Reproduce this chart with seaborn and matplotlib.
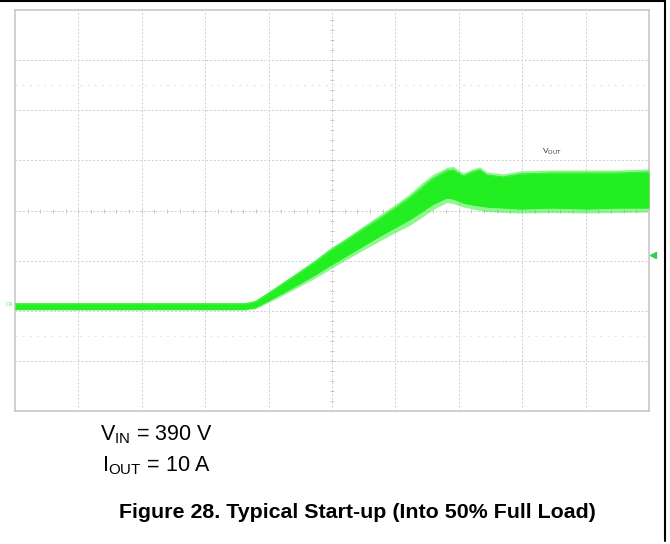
import numpy as np
import pandas as pd
import matplotlib
matplotlib.use("Agg")
import matplotlib.pyplot as plt
from matplotlib.lines import Line2D
import seaborn as sns

# ---- data (oscilloscope divisions: x 0..10, y 0..8) ----
t_div = [0.00, 1.50, 3.63, 3.79, 3.94, 4.18, 4.45, 4.73, 4.97, 5.24, 5.49, 5.76,
         6.03, 6.23, 6.39, 6.59, 6.81, 6.91, 7.07, 7.22, 7.33, 7.44, 7.70, 7.97,
         8.49, 9.02, 9.54, 10.00]
v_top = [2.14, 2.14, 2.14, 2.18, 2.30, 2.50, 2.73, 2.97, 3.20, 3.42, 3.63, 3.85,
         4.08, 4.26, 4.43, 4.64, 4.79, 4.81, 4.69, 4.77, 4.81, 4.71, 4.67, 4.73,
         4.75, 4.75, 4.75, 4.77]
v_bot = [2.03, 2.03, 2.03, 2.06, 2.16, 2.32, 2.51, 2.71, 2.90, 3.10, 3.29, 3.49,
         3.68, 3.82, 3.95, 4.12, 4.25, 4.23, 4.15, 4.11, 4.09, 4.07, 4.05, 4.03,
         4.05, 4.03, 4.05, 4.05]
# fuzzy fringe of the noisy trace
f_top = [2.16, 2.16, 2.16, 2.21, 2.33, 2.54, 2.77, 3.02, 3.25, 3.47, 3.69, 3.92,
         4.15, 4.34, 4.52, 4.72, 4.86, 4.88, 4.75, 4.83, 4.87, 4.77, 4.73, 4.79,
         4.81, 4.81, 4.81, 4.83]
f_bot = [2.01, 2.01, 2.01, 2.04, 2.13, 2.28, 2.46, 2.65, 2.83, 3.03, 3.21, 3.40,
         3.58, 3.71, 3.84, 4.02, 4.16, 4.14, 4.07, 4.03, 4.00, 3.98, 3.96, 3.95,
         3.96, 3.95, 3.96, 3.97]

trace_label = "V$_{\\mathrm{OUT}}$"
vin_text = "V$_{\\mathrm{IN}}$ = 390 V"
iout_text = "I$_{\\mathrm{OUT}}$ = 10 A"
caption = "Figure 28. Typical Start-up (Into 50% Full Load)"
chan_label = "C4"

df = pd.DataFrame({"t": t_div, "top": v_top, "bot": v_bot})

sns.set_theme(style="white")
plt.rcParams["font.family"] = ["Liberation Sans", "DejaVu Sans"]
plt.rcParams["mathtext.fontset"] = "custom"
plt.rcParams["mathtext.rm"] = "Liberation Sans"
plt.rcParams["mathtext.it"] = "Liberation Sans"

W, H = 670, 544
fig = plt.figure(figsize=(W / 100, H / 100), dpi=100)
fig.patch.set_facecolor("white")
ax = fig.add_axes([15 / W, (H - 411) / H, 634 / W, 401 / H])
ax.set_facecolor("white")

green = "#22ee22"
gridc = "#cfcfcf"

# graticule
for xv in range(1, 10):
    ax.axvline(xv, color=gridc, lw=0.7, ls=(0, (2, 2)), zorder=1)
for yv in range(1, 8):
    ax.axhline(yv, color=gridc, lw=0.7, ls=(0, (2, 2)), zorder=1)
for yv in (1.5, 6.5):
    ax.axhline(yv, color="#e0e0e0", lw=0.8, ls=(0, (1.5, 5)), zorder=1)
# center-line minor ticks
mx = np.arange(0.2, 10, 0.2)
my = np.arange(0.2, 8, 0.2)
ax.plot(mx, np.full_like(mx, 4.0), ls="none", marker="|", ms=3.5, mew=0.6,
        color="#c0c0c0", zorder=1)
ax.plot(np.full_like(my, 5.0), my, ls="none", marker="_", ms=3.5, mew=0.6,
        color="#c0c0c0", zorder=1)

# trace
ax.fill_between(t_div, f_bot, f_top, color=green, alpha=0.5, lw=0, zorder=2)
ax.fill_between(df["t"], df["bot"], df["top"], color=green, lw=0, zorder=3)
sns.lineplot(data=df, x="t", y="top", ax=ax, color=green, lw=0.6, zorder=3)
sns.lineplot(data=df, x="t", y="bot", ax=ax, color=green, lw=0.6, zorder=3)

ax.set_xlim(0, 10)
ax.set_ylim(0, 8)
ax.set_xticks([])
ax.set_yticks([])
ax.set_xlabel("")
ax.set_ylabel("")
for s in ax.spines.values():
    s.set_color("#c8c8c8")
    s.set_linewidth(1.2)

ax.text(8.47, 5.16, trace_label, fontsize=6, color="#333333", ha="center",
        va="center")

# channel marker & trigger marker
fig.text(6 / W, 1 - 304 / H, chan_label, fontsize=4, color="#66dd66",
         ha="left", va="center")
fig.add_artist(Line2D([653 / W], [1 - 255 / H], marker="<", ms=4,
                      color="#33cc55", ls="none"))

# figure frame lines (top and right)
fig.add_artist(Line2D([0, 664.5 / W], [1 - 0.8 / H, 1 - 0.8 / H], color="black", lw=1.5))
fig.add_artist(Line2D([664.5 / W, 664.5 / W], [1 - 0.8 / H, 1 - 541 / H], color="black", lw=1.5))

# annotations under the plot
fig.text(100 / W, 1 - 440 / H, vin_text, fontsize=15.5, color="black",
         ha="left", va="baseline")
fig.text(102 / W, 1 - 471 / H, iout_text, fontsize=15.5, color="black",
         ha="left", va="baseline")
fig.text(119 / W, 1 - 518 / H, caption, fontsize=15.4, fontweight="bold",
         color="black", ha="left", va="baseline")

fig.savefig("out.png", dpi=100, facecolor="white")
